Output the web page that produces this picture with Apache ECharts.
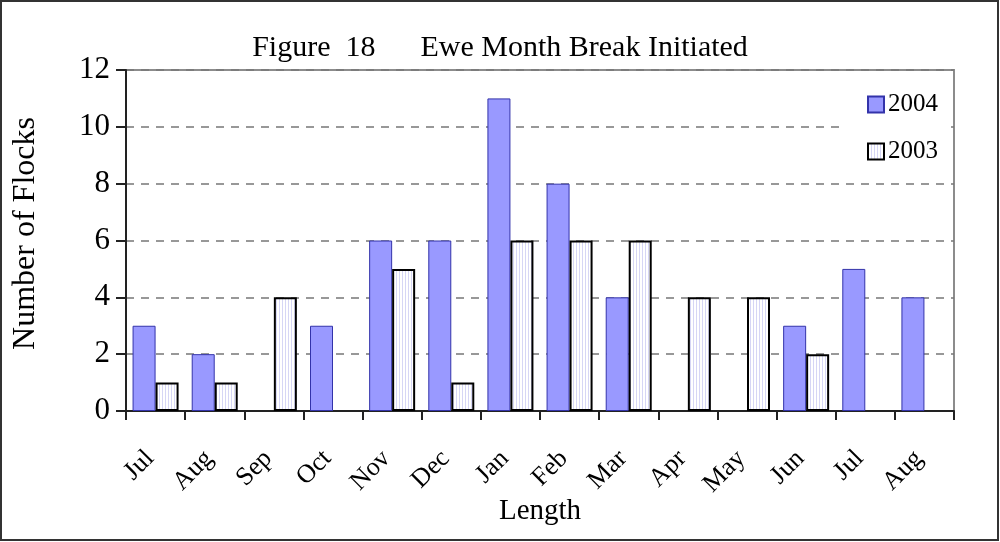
<!DOCTYPE html>
<html>
<head>
<meta charset="utf-8">
<script src="https://cdn.jsdelivr.net/npm/echarts@6/dist/echarts.min.js"></script>
<style>
  html, body { margin: 0; padding: 0; background: #fff; }
  #main { width: 1000px; height: 542px; }
</style>
</head>
<body>
<div id="main"></div>
<script>
// months from Jul 2003 to Aug 2004
var months = ['Jul', 'Aug', 'Sep', 'Oct', 'Nov', 'Dec', 'Jan', 'Feb', 'Mar', 'Apr', 'May', 'Jun', 'Jul', 'Aug'];
var flocks2004 = [3, 2, 0, 3, 6, 6, 11, 8, 4, 0, 0, 3, 5, 4];
var flocks2003 = [1, 1, 4, 0, 5, 1, 6, 6, 6, 4, 4, 2, 0, 0];
var yTicks = [0, 2, 4, 6, 8, 10, 12];

var serif = '"Liberation Serif", "DejaVu Serif", serif';

// zero bars are not drawn at all (no border line on the baseline)
function noZero(arr) {
  return arr.map(function (v) { return v === 0 ? null : v; });
}

// vertical stripe fill for the 2003 bars
var stripe = document.createElement('canvas');
stripe.width = 3;
stripe.height = 4;
var sctx = stripe.getContext('2d');
sctx.fillStyle = '#ffffff';
sctx.fillRect(0, 0, 3, 4);
sctx.fillStyle = '#d6d6f5';
sctx.fillRect(0, 0, 1, 4);

var chart = echarts.init(document.getElementById('main'));

var option = {
  animation: false,
  backgroundColor: '#fff',
  title: {
    text: 'Figure  18      Ewe Month Break Initiated',
    left: 'center',
    top: 28,
    textStyle: { fontFamily: serif, fontSize: 30, fontWeight: 'normal', color: '#000' }
  },
  legend: {
    orient: 'vertical',
    left: 840,
    top: 82,
    padding: [10, 10, 10, 27],
    backgroundColor: '#fff',
    icon: 'rect',
    itemWidth: 16,
    itemHeight: 16,
    itemGap: 22,
    textStyle: { fontFamily: serif, fontSize: 25, color: '#000', padding: [0, 0, 0, -1] },
    data: ['2004', '2003']
  },
  grid: {
    left: 126,
    right: 46,
    top: 70,
    bottom: 131,
    show: true,
    borderColor: '#8c8c8c',
    borderWidth: 2
  },
  xAxis: {
    type: 'category',
    data: months,
    name: 'Length',
    nameLocation: 'middle',
    nameGap: 86,
    nameMoveOverlap: false,
    nameTextStyle: { fontFamily: serif, fontSize: 29, color: '#000' },
    axisLine: { lineStyle: { color: '#222', width: 2 } },
    axisTick: { show: true, length: 9, lineStyle: { color: '#222', width: 2 } },
    axisLabel: {
      rotate: 45,
      margin: 38,
      padding: [0, 8, 0, 0],
      interval: 0,
      fontFamily: serif,
      fontSize: 26,
      color: '#000'
    }
  },
  yAxis: {
    type: 'value',
    min: yTicks[0],
    max: yTicks[yTicks.length - 1],
    interval: 2,
    name: 'Number of Flocks',
    nameLocation: 'middle',
    nameGap: 84,
    nameMoveOverlap: false,
    nameTextStyle: { fontFamily: serif, fontSize: 32, color: '#000', padding: [0, 0, 0, 14] },
    axisLine: { show: true, lineStyle: { color: '#222', width: 2 } },
    axisTick: { show: true, length: 10, lineStyle: { color: '#222', width: 2 } },
    axisLabel: { margin: 16, fontFamily: serif, fontSize: 31, color: '#000' },
    splitLine: { show: true, lineStyle: { color: '#777', width: 1.5, type: [8, 7] } }
  },
  series: [
    {
      name: '2004',
      type: 'bar',
      data: noZero(flocks2004),
      barWidth: 23,
      barGap: '0%',
      itemStyle: { color: '#9999ff', borderColor: '#3333aa', borderWidth: 1 }
    },
    {
      name: '2003',
      type: 'bar',
      data: noZero(flocks2003),
      barWidth: 23,
      itemStyle: {
        color: { image: stripe, repeat: 'repeat' },
        borderColor: '#000',
        borderWidth: 2
      }
    }
  ],
  graphic: [
    {
      type: 'rect',
      silent: true,
      z: 100,
      shape: { x: 1, y: 1, width: 997, height: 539 },
      style: { fill: 'none', stroke: '#333', lineWidth: 2 }
    }
  ]
};

chart.setOption(option);
</script>
</body>
</html>
